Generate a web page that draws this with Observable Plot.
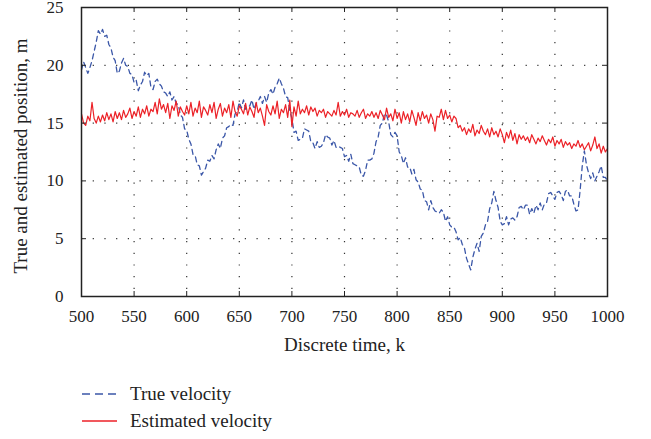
<!DOCTYPE html>
<html><head><meta charset="utf-8">
<script src="https://cdn.jsdelivr.net/npm/d3@7"></script>
<script src="https://cdn.jsdelivr.net/npm/@observablehq/plot@0.6"></script>
<style>
body{margin:0;background:#fff;font-family:"Liberation Serif",serif;color:#222;}
#chart{position:relative;width:651px;height:439px;}
#chart svg text{font-family:"Liberation Serif",serif !important;}
.legend{position:absolute;left:82px;top:380px;}
.row{display:flex;align-items:center;height:27px;font-size:19px;}
.row svg{margin-right:13px;}
</style></head><body><div id="chart"></div>
<script>
const kStart = 500, kStep = 2;
const xTicks = [500,550,600,650,700,750,800,850,900,950,1000];
const yTicks = [0,5,10,15,20,25];
const seriesNames = ["True velocity","Estimated velocity"];
const seriesColors = ["#3b57a8","#ec2127"];

const trueVelocity = [
19.6,20.3,19.8,19.3,19.8,20.4,21.2,22.0,23.0,22.7,
23.1,22.5,22.6,21.8,21.5,20.7,20.4,19.3,19.5,20.2,
20.6,20.0,19.9,19.3,19.2,18.5,18.7,17.8,18.3,18.6,
19.4,19.1,19.3,18.1,17.9,18.6,18.8,18.4,18.2,17.7,
17.6,17.3,17.7,17.0,17.3,16.7,16.6,15.7,15.5,14.5,
14.4,13.6,13.2,12.3,12.2,11.4,11.3,10.5,10.8,11.1,
11.8,11.7,12.2,11.9,12.7,13.2,12.8,13.7,13.9,14.6,
14.7,14.9,14.8,15.8,16.0,16.8,16.3,17.0,16.2,16.4,
16.5,17.0,16.2,16.7,16.9,17.3,16.7,17.3,16.8,17.6,
17.9,17.5,18.1,18.4,18.9,18.4,18.0,17.3,17.2,16.1,
15.4,14.2,14.3,13.5,13.6,13.7,14.5,14.4,14.3,13.4,
13.3,12.8,13.4,12.9,13.0,13.3,14.0,13.8,13.7,13.1,
13.5,12.9,13.0,12.9,12.8,12.1,12.2,11.7,12.3,11.5,
11.4,11.3,11.2,10.5,10.4,10.9,11.8,11.8,11.9,12.4,
13.4,13.8,14.8,15.0,15.8,15.7,15.1,14.0,13.8,14.2,
13.9,12.5,12.2,11.5,12.0,11.2,11.2,10.6,11.0,10.1,
9.9,9.3,9.2,8.3,8.2,7.5,8.3,7.7,7.4,7.3,
7.2,7.5,7.3,6.5,6.9,6.2,6.0,6.0,5.6,4.9,
5.1,4.5,4.2,3.3,2.8,2.3,3.4,4.1,4.6,3.9,
5.2,5.5,6.2,6.5,7.6,8.1,9.1,8.3,7.7,6.5,
6.2,6.3,6.9,6.2,6.7,6.8,6.6,6.9,7.7,7.8,
7.5,7.9,7.9,7.1,7.6,7.2,7.9,7.5,8.1,7.5,
8.0,8.1,8.9,9.0,8.7,8.4,9.0,9.1,8.8,8.3,
9.1,9.2,8.7,8.7,8.0,7.4,7.5,9.2,11.3,12.6,
11.4,10.7,10.2,10.7,10.0,10.4,10.8,11.3,10.3,10.3,
10.0];

const estimatedVelocity = [
15.8,15.0,14.8,15.6,15.2,16.8,15.4,15.0,15.6,15.1,
15.7,15.2,15.9,15.3,15.8,15.1,16.0,15.4,15.9,15.3,
16.1,15.5,15.8,16.3,15.4,16.0,15.6,16.4,15.5,16.2,
15.8,16.5,15.6,16.2,16.0,16.8,15.8,17.1,16.2,16.6,
15.9,16.7,15.4,16.5,16.1,16.9,15.6,16.4,16.0,15.7,
16.5,15.8,16.8,15.6,16.3,15.9,16.9,15.5,16.4,16.1,
15.7,16.6,15.9,16.8,15.4,16.2,16.7,15.6,16.3,15.9,
16.6,15.5,16.9,16.0,15.6,16.5,16.2,15.8,16.7,15.7,
16.4,16.0,15.5,16.8,15.9,16.3,15.6,14.8,16.6,16.0,
15.7,16.5,15.8,16.9,15.4,16.2,15.9,16.6,15.5,17.0,
14.7,16.4,15.6,16.9,15.8,16.2,15.9,16.5,15.7,16.4,
16.0,16.3,15.6,16.1,15.9,16.2,15.5,16.0,15.8,15.6,
16.1,15.7,16.8,15.6,16.0,15.7,16.2,15.5,15.9,15.8,
15.6,16.1,15.5,15.9,16.2,15.4,15.8,15.6,16.0,15.5,
15.9,15.4,16.1,15.7,15.3,16.3,15.5,15.8,15.2,16.2,
15.4,15.9,15.0,16.0,15.3,15.8,15.1,16.1,15.5,14.8,
15.9,15.2,16.0,15.4,15.7,15.0,15.8,15.3,14.3,15.6,
15.5,16.2,15.3,16.1,15.4,15.7,15.1,15.6,15.4,14.6,
14.8,14.3,14.6,14.0,14.5,14.2,14.9,13.9,14.4,14.1,
14.8,14.3,14.0,14.5,13.8,14.6,14.0,14.3,13.8,14.5,
14.0,13.3,14.2,13.7,14.4,13.5,14.1,13.2,14.0,13.6,
13.9,13.5,13.8,13.3,14.0,13.6,13.2,13.7,13.4,13.9,
13.5,13.1,13.6,13.3,13.8,13.0,13.5,13.2,13.6,12.9,
13.4,13.1,13.3,12.8,13.2,13.0,13.5,12.9,13.2,12.7,
13.0,13.3,12.6,13.1,13.8,12.8,13.2,12.4,13.0,12.5,
12.8];

const trueData = trueVelocity.map((v,i)=>({k:kStart+i*kStep, v}));
const estData = estimatedVelocity.map((v,i)=>({k:kStart+i*kStep, v}));

const W = 651, H = 364, mT = 7, mB = 68, mL = 81, mR = 44;
const frameW = W - mL - mR, frameH = H - mT - mB;
const serif = "Liberation Serif";

const plot = Plot.plot({
  width: W, height: H,
  marginTop: mT, marginBottom: mB, marginLeft: mL, marginRight: mR,
  style: {fontFamily: serif, fontSize: "17px", color: "#222", background: "white", overflow: "visible"},
  x: {domain: [500, 1000]},
  y: {domain: [0, 25]},
  marks: [
    Plot.gridX(xTicks.slice(1,-1), {stroke: "#333", strokeOpacity: 1, strokeWidth: 1.2, strokeDasharray: "1.2,10.5"}),
    Plot.gridY(yTicks.slice(1,-1), {stroke: "#333", strokeOpacity: 1, strokeWidth: 1.2, strokeDasharray: "1.2,10.5"}),
    Plot.line(trueData, {x: "k", y: "v", stroke: seriesColors[0], strokeWidth: 1.3, strokeDasharray: "5,4"}),
    Plot.line(estData, {x: "k", y: "v", stroke: seriesColors[1], strokeWidth: 1.2}),
    Plot.tickX(xTicks, {x: d => d, stroke: "#222", insetTop: frameH - 5}),
    Plot.tickX(xTicks, {x: d => d, stroke: "#222", insetBottom: frameH - 5}),
    Plot.tickY(yTicks, {y: d => d, stroke: "#222", insetRight: frameW - 5}),
    Plot.tickY(yTicks, {y: d => d, stroke: "#222", insetLeft: frameW - 5}),
    Plot.frame({stroke: "#222", strokeWidth: 1.5}),
    Plot.axisX(xTicks, {tickSize: 0, tickPadding: 13, label: null, fontSize: 17, fontFamily: serif, tickFormat: d => String(d)}),
    Plot.axisY(yTicks, {tickSize: 0, tickPadding: 18, label: null, fontSize: 17, fontFamily: serif, tickFormat: d => String(d)}),
    Plot.text(["Discrete time, k"], {frameAnchor: "bottom", dy: 54, fontSize: 19, fontFamily: serif, fill: "#222"}),
    Plot.text(["True and estimated position, m"], {frameAnchor: "left", textAnchor: "middle", dx: -61, dy: 4, rotate: -90, fontSize: 19, fontFamily: serif, fill: "#222"})
  ]
});

plot.querySelectorAll("text").forEach(t => { t.setAttribute("font-family", serif); t.style.fontFamily = "'Liberation Serif', serif"; t.style.fontVariant = "normal"; });

const chart = document.getElementById("chart");
chart.appendChild(plot);

const legend = document.createElement("div");
legend.className = "legend";
seriesNames.forEach((name, i) => {
  const row = document.createElement("div");
  row.className = "row";
  const dash = i === 0 ? 'stroke-dasharray="8,5"' : '';
  row.innerHTML = `<svg width="35" height="10"><line x1="0" y1="5" x2="35" y2="5" stroke="${seriesColors[i]}" stroke-width="1.4" ${dash}/></svg><span>${name}</span>`;
  legend.appendChild(row);
});
chart.appendChild(legend);
</script>
</body></html>
